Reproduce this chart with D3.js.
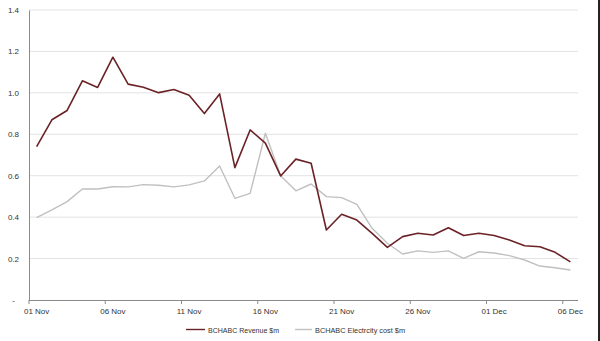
<!DOCTYPE html>
<html>
<head>
<meta charset="utf-8">
<script src="https://cdn.jsdelivr.net/npm/d3@7"></script>
<style>
  html, body { margin: 0; padding: 0; background: #fff; }
  svg { display: block; }
  text { font-family: "Liberation Sans", Arial, sans-serif; fill: #333; }
</style>
</head>
<body>
<svg id="chart" width="600" height="341"></svg>
<script>
// Daily dates, 01 Nov – 06 Dec
const dates = ["01 Nov","02 Nov","03 Nov","04 Nov","05 Nov","06 Nov","07 Nov","08 Nov","09 Nov","10 Nov",
  "11 Nov","12 Nov","13 Nov","14 Nov","15 Nov","16 Nov","17 Nov","18 Nov","19 Nov","20 Nov",
  "21 Nov","22 Nov","23 Nov","24 Nov","25 Nov","26 Nov","27 Nov","28 Nov","29 Nov","30 Nov",
  "01 Dec","02 Dec","03 Dec","04 Dec","05 Dec","06 Dec"];

// BCHABC mining revenue, $m
const revenue = [0.74,0.87,0.915,1.058,1.026,1.172,1.042,1.027,1.001,1.016,
  0.988,0.90,0.995,0.639,0.821,0.757,0.599,0.68,0.66,0.338,
  0.414,0.386,0.322,0.254,0.306,0.322,0.314,0.349,0.311,0.322,
  0.311,0.29,0.262,0.257,0.23,0.184];

// BCHABC electricity cost, $m
const electricity = [0.398,0.435,0.475,0.536,0.536,0.547,0.546,0.557,0.554,0.546,
  0.556,0.575,0.647,0.491,0.515,0.805,0.6,0.527,0.56,0.499,
  0.494,0.462,0.346,0.274,0.222,0.237,0.230,0.237,0.201,0.233,
  0.227,0.214,0.193,0.164,0.156,0.145];

const yTicks = [0, 0.2, 0.4, 0.6, 0.8, 1.0, 1.2, 1.4];
const xLabels = ["01 Nov","06 Nov","11 Nov","16 Nov","21 Nov","26 Nov","01 Dec","06 Dec"];

const seriesNames = ["BCHABC Revenue $m", "BCHABC Electrcity cost $m"];
const seriesColors = ["#6b2226", "#c0c0c0"];

const svg = d3.select("#chart");
const plotLeft = 29, plotRight = 578, plotTop = 10, plotBottom = 300;

const x = d3.scaleBand().domain(dates).range([plotLeft, plotRight]).padding(0);
const y = d3.scaleLinear().domain([0, 1.4]).range([plotBottom, plotTop]);

// Horizontal gridlines
svg.append("g")
  .selectAll("line")
  .data(yTicks.filter(d => d > 0))
  .join("line")
  .attr("x1", plotLeft).attr("x2", plotRight)
  .attr("y1", d => y(d)).attr("y2", d => y(d))
  .attr("stroke", "#e2e2e2").attr("stroke-width", 1);

// Y axis (zero shown as a dash, accounting style)
const yAxis = d3.axisLeft(y).tickValues(yTicks).tickSize(0).tickPadding(10)
  .tickFormat(d => d === 0 ? "-" : d3.format(".1f")(d));
const gy = svg.append("g").attr("transform", `translate(${plotLeft},0)`).call(yAxis);
gy.select(".domain").attr("stroke", "#8a8a8a");
gy.selectAll("text").attr("font-size", 8).attr("fill", "#444")
  .style("font-family", "\"Liberation Sans\", Arial, sans-serif")
  .attr("dx", d => d === 0 ? -4 : 0);

// X axis: ticks at band edges every 5 days, labels at band centres
const gx = svg.append("g");
gx.append("line").attr("x1", plotLeft).attr("x2", plotRight)
  .attr("y1", plotBottom + 0.5).attr("y2", plotBottom + 0.5).attr("stroke", "#8a8a8a");
gx.selectAll("line.tick")
  .data(xLabels)
  .join("line").attr("class", "tick")
  .attr("x1", d => x(d)).attr("x2", d => x(d))
  .attr("y1", plotBottom).attr("y2", plotBottom + 4)
  .attr("stroke", "#8a8a8a");
gx.selectAll("text")
  .data(xLabels)
  .join("text")
  .attr("x", d => x(d) + x.bandwidth() / 2)
  .attr("y", plotBottom + 14)
  .attr("text-anchor", "middle")
  .attr("font-size", 8).attr("fill", "#444")
  .text(d => d);

// Lines
const line = d3.line()
  .x((d, i) => x(dates[i]) + x.bandwidth() / 2)
  .y(d => y(d));

svg.append("path").datum(electricity)
  .attr("fill", "none").attr("stroke", seriesColors[1]).attr("stroke-width", 1.4)
  .attr("stroke-linejoin", "round").attr("d", line);

svg.append("path").datum(revenue)
  .attr("fill", "none").attr("stroke", seriesColors[0]).attr("stroke-width", 1.6)
  .attr("stroke-linejoin", "round").attr("d", line);

// Legend
const legend = svg.append("g").attr("transform", "translate(0,329.5)");
const legendItems = [
  { x: 186, sample: 19, textWidth: 71 },
  { x: 295, sample: 17, textWidth: 90 }
];
seriesNames.forEach((name, i) => {
  const it = legendItems[i];
  const g = legend.append("g").attr("transform", `translate(${it.x},0)`);
  g.append("line").attr("x1", 0).attr("x2", it.sample).attr("y1", 0).attr("y2", 0)
    .attr("stroke", seriesColors[i]).attr("stroke-width", 1.4);
  g.append("text").attr("x", it.sample + 3).attr("y", 3).attr("font-size", 8).attr("fill", "#444")
    .attr("textLength", it.textWidth).attr("lengthAdjust", "spacingAndGlyphs")
    .text(name);
});

// Dark strip along the right edge of the frame
svg.append("rect").attr("x", 598).attr("y", 0).attr("width", 2).attr("height", 341)
  .attr("fill", "#222");
</script>
</body>
</html>
